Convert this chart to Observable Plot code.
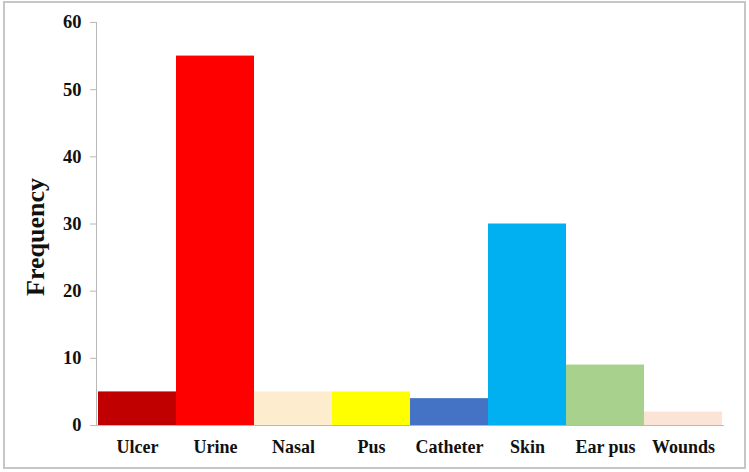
<!DOCTYPE html>
<html>
<head>
<meta charset="utf-8">
<script src="https://cdn.jsdelivr.net/npm/d3@7"></script>
<script src="https://cdn.jsdelivr.net/npm/@observablehq/plot@0.6"></script>
<style>
  html, body { margin: 0; padding: 0; background: #fff; }
  #wrap { position: relative; width: 749px; height: 472px; overflow: hidden; }
  #border { position: absolute; left: 3px; top: 1px; width: 739px; height: 464px; border: 2px solid #c6c6c6; pointer-events: none; }
</style>
</head>
<body>
<div id="wrap"><div id="border"></div></div>
<script>
const categories = ["Ulcer", "Urine", "Nasal", "Pus", "Catheter", "Skin", "Ear pus", "Wounds"];
const frequency = [5, 55, 5, 5, 4, 30, 9, 2];
const colors = ["#c00000", "#ff0000", "#fdecce", "#ffff00", "#4472c4", "#00b0f0", "#a9d18e", "#fbe3d6"];
const yTicks = [0, 10, 20, 30, 40, 50, 60];
const yLabel = "Frequency";

const data = categories.map((c, i) => ({category: c, value: frequency[i]}));

const chart = Plot.plot({
  width: 749,
  height: 472,
  marginLeft: 96,
  marginRight: 25,
  marginTop: 22,
  marginBottom: 47,
  style: {fontFamily: "'Liberation Serif', 'Times New Roman', serif", fontWeight: "bold", color: "#111", background: "transparent"},
  x: {domain: categories, padding: 0},
  y: {domain: [0, 60]},
  color: {domain: categories, range: colors},
  marks: [
    Plot.barY(data, {x: "category", y: "value", fill: "category"}),
    Plot.frame({anchor: "left", stroke: "#b8b8b8", strokeOpacity: 1}),
    Plot.ruleY([0], {stroke: "#b8b8b8", insetLeft: -6}),
    Plot.axisY({ticks: yTicks, tickSize: 6, tickPadding: 9, stroke: "#b8b8b8", strokeOpacity: 1, label: null, fontSize: 18.5, fill: "#111"}),
    Plot.axisX({tickSize: 0, tickPadding: 15, label: null, fontSize: 18, fill: "#111"}),
    Plot.text([yLabel], {frameAnchor: "left", textAnchor: "middle", text: d => d, rotate: -90, dx: -61, dy: 13, fontSize: 26, fontWeight: "bold", fill: "#111"})
  ]
});
document.getElementById("wrap").prepend(chart);
</script>
</body>
</html>
